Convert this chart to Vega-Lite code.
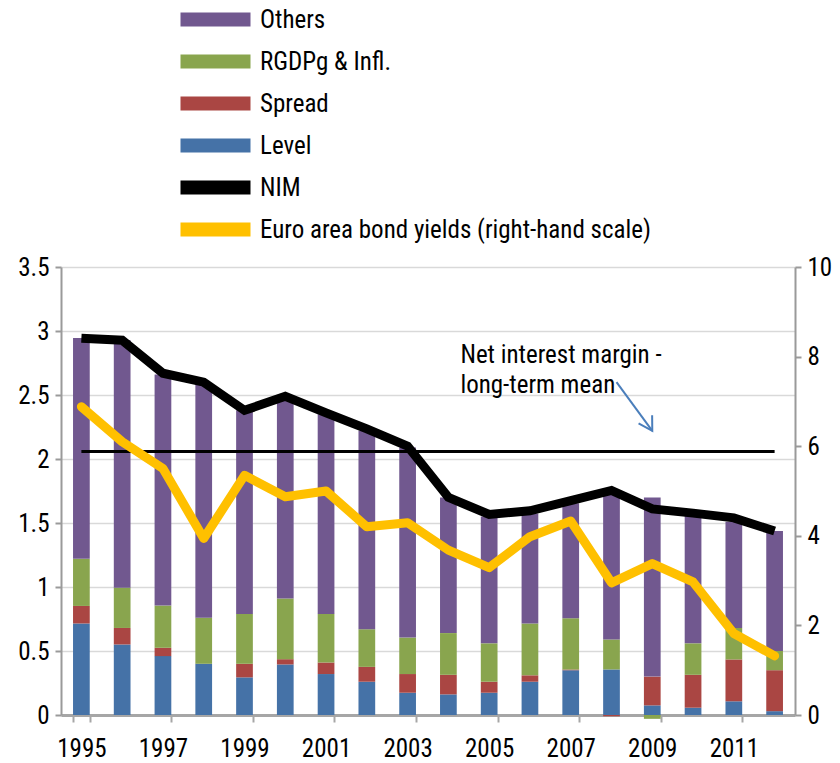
{
  "$schema": "https://vega.github.io/schema/vega-lite/v6.json",
  "width": 734,
  "height": 448,
  "autosize": "none",
  "padding": {"left": 61, "top": 267, "right": 45, "bottom": 48},
  "config": {
    "font": "Liberation Sans Narrow, Roboto Condensed, DejaVu Sans Condensed, Liberation Sans, sans-serif",
    "view": {"stroke": null},
    "text": {"font": "Liberation Sans Narrow, Roboto Condensed, DejaVu Sans Condensed, Liberation Sans, sans-serif"},
    "axis": {"labelFont": "Liberation Sans Narrow, Roboto Condensed, DejaVu Sans Condensed, Liberation Sans, sans-serif", "labelFontSize": 25, "labelColor": "#000000", "title": null, "domainColor": "#9a9a9a", "tickColor": "#9a9a9a", "domainWidth": 2, "tickWidth": 2},
    "legend": {"labelFont": "Liberation Sans Narrow, Roboto Condensed, DejaVu Sans Condensed, Liberation Sans, sans-serif", "labelFontSize": 25, "labelColor": "#000000"}
  },
  "datasets": {
    "bars": [
      {"year": 1995, "component": "Level", "value": 0.715}, {"year": 1995, "component": "Spread", "value": 0.137}, {"year": 1995, "component": "RGDPg & Infl.", "value": 0.368}, {"year": 1995, "component": "Others", "value": 1.725},
      {"year": 1996, "component": "Level", "value": 0.551}, {"year": 1996, "component": "Spread", "value": 0.129}, {"year": 1996, "component": "RGDPg & Infl.", "value": 0.315}, {"year": 1996, "component": "Others", "value": 1.935},
      {"year": 1997, "component": "Level", "value": 0.46}, {"year": 1997, "component": "Spread", "value": 0.065}, {"year": 1997, "component": "RGDPg & Infl.", "value": 0.33}, {"year": 1997, "component": "Others", "value": 1.805},
      {"year": 1998, "component": "Level", "value": 0.40}, {"year": 1998, "component": "Spread", "value": 0.0}, {"year": 1998, "component": "RGDPg & Infl.", "value": 0.36}, {"year": 1998, "component": "Others", "value": 1.83},
      {"year": 1999, "component": "Level", "value": 0.294}, {"year": 1999, "component": "Spread", "value": 0.106}, {"year": 1999, "component": "RGDPg & Infl.", "value": 0.39}, {"year": 1999, "component": "Others", "value": 1.59},
      {"year": 2000, "component": "Level", "value": 0.395}, {"year": 2000, "component": "Spread", "value": 0.041}, {"year": 2000, "component": "RGDPg & Infl.", "value": 0.474}, {"year": 2000, "component": "Others", "value": 1.57},
      {"year": 2001, "component": "Level", "value": 0.32}, {"year": 2001, "component": "Spread", "value": 0.09}, {"year": 2001, "component": "RGDPg & Infl.", "value": 0.38}, {"year": 2001, "component": "Others", "value": 1.56},
      {"year": 2002, "component": "Level", "value": 0.26}, {"year": 2002, "component": "Spread", "value": 0.116}, {"year": 2002, "component": "RGDPg & Infl.", "value": 0.294}, {"year": 2002, "component": "Others", "value": 1.55},
      {"year": 2003, "component": "Level", "value": 0.174}, {"year": 2003, "component": "Spread", "value": 0.146}, {"year": 2003, "component": "RGDPg & Infl.", "value": 0.285}, {"year": 2003, "component": "Others", "value": 1.485},
      {"year": 2004, "component": "Level", "value": 0.161}, {"year": 2004, "component": "Spread", "value": 0.153}, {"year": 2004, "component": "RGDPg & Infl.", "value": 0.326}, {"year": 2004, "component": "Others", "value": 1.06},
      {"year": 2005, "component": "Level", "value": 0.174}, {"year": 2005, "component": "Spread", "value": 0.086}, {"year": 2005, "component": "RGDPg & Infl.", "value": 0.30}, {"year": 2005, "component": "Others", "value": 0.99},
      {"year": 2006, "component": "Level", "value": 0.26}, {"year": 2006, "component": "Spread", "value": 0.05}, {"year": 2006, "component": "RGDPg & Infl.", "value": 0.405}, {"year": 2006, "component": "Others", "value": 0.86},
      {"year": 2007, "component": "Level", "value": 0.35}, {"year": 2007, "component": "Spread", "value": 0.005}, {"year": 2007, "component": "RGDPg & Infl.", "value": 0.40}, {"year": 2007, "component": "Others", "value": 0.90},
      {"year": 2008, "component": "Level", "value": 0.356}, {"year": 2008, "component": "Spread", "value": -0.01}, {"year": 2008, "component": "RGDPg & Infl.", "value": 0.234}, {"year": 2008, "component": "Others", "value": 1.14},
      {"year": 2009, "component": "Level", "value": 0.075}, {"year": 2009, "component": "Spread", "value": 0.225}, {"year": 2009, "component": "RGDPg & Infl.", "value": -0.03}, {"year": 2009, "component": "Others", "value": 1.40},
      {"year": 2010, "component": "Level", "value": 0.057}, {"year": 2010, "component": "Spread", "value": 0.257}, {"year": 2010, "component": "RGDPg & Infl.", "value": 0.246}, {"year": 2010, "component": "Others", "value": 1.00},
      {"year": 2011, "component": "Level", "value": 0.107}, {"year": 2011, "component": "Spread", "value": 0.327}, {"year": 2011, "component": "RGDPg & Infl.", "value": 0.246}, {"year": 2011, "component": "Others", "value": 0.83},
      {"year": 2012, "component": "Level", "value": 0.03}, {"year": 2012, "component": "Spread", "value": 0.32}, {"year": 2012, "component": "RGDPg & Infl.", "value": 0.15}, {"year": 2012, "component": "Others", "value": 0.937}
    ],
    "lines": [
      {"year": 1995, "nim": 2.944, "bond": 6.88},
      {"year": 1996, "nim": 2.928, "bond": 6.10},
      {"year": 1997, "nim": 2.67, "bond": 5.50},
      {"year": 1998, "nim": 2.60, "bond": 3.94},
      {"year": 1999, "nim": 2.38, "bond": 5.35},
      {"year": 2000, "nim": 2.49, "bond": 4.87},
      {"year": 2001, "nim": 2.36, "bond": 5.00},
      {"year": 2002, "nim": 2.235, "bond": 4.20},
      {"year": 2003, "nim": 2.10, "bond": 4.29},
      {"year": 2004, "nim": 1.70, "bond": 3.68},
      {"year": 2005, "nim": 1.567, "bond": 3.29},
      {"year": 2006, "nim": 1.595, "bond": 3.98},
      {"year": 2007, "nim": 1.675, "bond": 4.33},
      {"year": 2008, "nim": 1.754, "bond": 2.95},
      {"year": 2009, "nim": 1.61, "bond": 3.38},
      {"year": 2010, "nim": 1.577, "bond": 2.97},
      {"year": 2011, "nim": 1.54, "bond": 1.82},
      {"year": 2012, "nim": 1.437, "bond": 1.32}
    ],
    "mean": [{"year": 1995, "v": 2.058}, {"year": 2012, "v": 2.058}],
    "note": [{"year": 2004, "v": 2.75, "t": "Net interest margin -\nlong-term mean"}],
    "arrow": [{"year": 2008, "year2": 2009, "y1": 2.60, "y2": 2.22}]
  },
  "encoding": {
    "x": {
      "field": "year", "type": "ordinal",
      "scale": {"paddingInner": 0.59, "paddingOuter": 0.295},
      "axis": {"values": [1995, 1997, 1999, 2001, 2003, 2005, 2007, 2009, 2011], "tickBand": "extent", "labelAngle": 0, "tickSize": 7, "labelPadding": 14, "domainWidth": 3, "domainColor": "#a6a6a6", "tickColor": "#a6a6a6", "grid": false, "title": null}
    }
  },
  "layer": [
    {
      "layer": [
        {
          "data": {"name": "bars"},
          "transform": [{"calculate": "indexof(['Level','Spread','RGDPg & Infl.','Others'], datum.component)", "as": "stackOrder"}],
          "mark": {"type": "bar"},
          "encoding": {
            "y": {"field": "value", "type": "quantitative", "stack": "zero",
              "scale": {"domain": [0, 3.5], "nice": false, "zero": false},
              "axis": {"values": [0, 0.5, 1, 1.5, 2, 2.5, 3, 3.5], "format": "~g", "grid": true, "gridColor": "#d9d9d9", "gridWidth": 1.5, "tickSize": 6, "labelPadding": 6, "title": null}},
            "order": {"field": "stackOrder", "type": "quantitative"},
            "color": {"field": "component", "type": "nominal",
              "scale": {"domain": ["Others", "RGDPg & Infl.", "Spread", "Level", "NIM", "Euro area bond yields (right-hand scale)"],
                        "range": ["#71588F", "#89A54E", "#AA4643", "#4572A7", "#000000", "#FFC000"]},
              "legend": {"orient": "none", "legendX": 142, "legendY": -260, "title": null, "padding": 0,
                "symbolType": "M-5,-1H5V1H-5Z", "symbolSize": 196, "symbolStrokeWidth": 0,
                "labelOffset": 32, "rowPadding": 16, "labelLimit": 600,
                "encode": {"symbols": {"update": {"fill": {"scale": "color", "field": "value"}, "stroke": {"value": "transparent"}, "opacity": {"value": 1}, "shape": {"value": "M-5,-1H5V1H-5Z"}, "size": {"value": 196}}}}}}
          }
        },
        {
          "data": {"name": "mean"},
          "mark": {"type": "line", "color": "#000000", "strokeWidth": 3},
          "encoding": {"y": {"field": "v", "type": "quantitative"}}
        },
        {
          "data": {"name": "lines"},
          "mark": {"type": "line", "strokeWidth": 9},
          "encoding": {"y": {"field": "nim", "type": "quantitative"}, "color": {"datum": "NIM"}}
        },
        {
          "data": {"name": "note"},
          "mark": {"type": "text", "align": "left", "baseline": "alphabetic", "dx": 12, "fontSize": 25, "lineHeight": 30, "lineBreak": "\n", "color": "#000000"},
          "encoding": {"y": {"field": "v", "type": "quantitative"}, "text": {"field": "t"}}
        },
        {
          "data": {"name": "arrow"},
          "mark": {"type": "rule", "color": "#4a7ebb", "strokeWidth": 2},
          "encoding": {"x": {"field": "year", "type": "ordinal", "bandPosition": 0.8}, "x2": {"field": "year2"}, "y": {"field": "y1", "type": "quantitative"}, "y2": {"field": "y2"}}
        },
        {
          "data": {"name": "arrow"},
          "mark": {"type": "point", "shape": "M-0.5,-0.85L0,0L0.5,-0.85", "filled": false, "stroke": "#4a7ebb", "strokeWidth": 2, "size": 1000, "angle": -31, "opacity": 1},
          "encoding": {"x": {"field": "year2", "type": "ordinal"}, "y": {"field": "y2", "type": "quantitative"}}
        }
      ]
    },
    {
      "data": {"name": "lines"},
      "mark": {"type": "line", "strokeWidth": 9, "strokeCap": "round", "strokeJoin": "round"},
      "encoding": {
        "y": {"field": "bond", "type": "quantitative", "scale": {"domain": [0, 10], "nice": false},
          "axis": {"orient": "right", "values": [0, 2, 4, 6, 8, 10], "grid": false, "tickSize": 6, "labelPadding": 6, "title": null}},
        "color": {"datum": "Euro area bond yields (right-hand scale)"}
      }
    }
  ],
  "resolve": {"scale": {"y": "independent"}}
}
